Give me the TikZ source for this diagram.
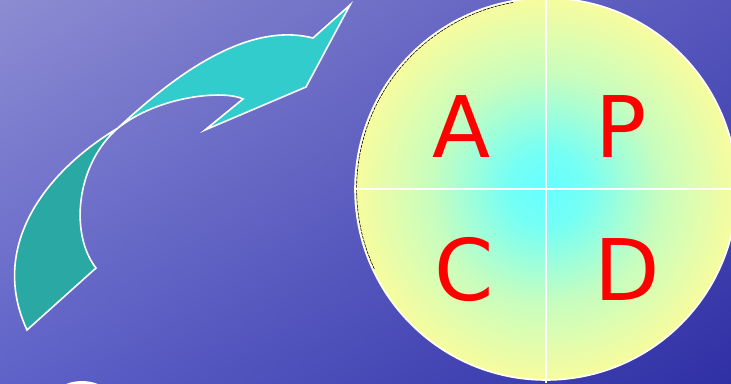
\documentclass[tikz,border=0pt]{standalone}
\usepackage{fontspec}
\usetikzlibrary{shadings}
\newfontfamily\lettfont{DejaVu Sans}
\definecolor{bgUL}{RGB}{140,140,210}
\definecolor{bgUR}{RGB}{85,85,188}
\definecolor{bgLL}{RGB}{95,98,200}
\definecolor{bgLR}{RGB}{48,48,165}
\definecolor{tealLight}{RGB}{51,204,204}
\definecolor{tealDark}{RGB}{42,168,164}
\definecolor{cyanC}{RGB}{102,255,255}
\definecolor{yellowC}{RGB}{252,252,155}
\definecolor{letterRed}{RGB}{255,0,0}
\pgfdeclareradialshading{pdcashade}{\pgfpoint{0bp}{0bp}}{color(0bp)=(cyanC); color(5bp)=(cyanC!90!yellowC); color(15bp)=(cyanC!35!yellowC); color(26bp)=(yellowC); color(50bp)=(yellowC)}
\tikzset{
  outline/.style={draw=white, line width=1.6pt, line join=miter},
  letter/.style={text=letterRed, font=\lettfont\fontsize{85}{85}\selectfont, inner sep=0pt, anchor=center},
}
\begin{document}
\begin{tikzpicture}[x=1pt, y=-1pt]
\useasboundingbox (0,0) rectangle (731,383);
% background
\shade[upper left=bgUL, upper right=bgUR, lower left=bgLL, lower right=bgLR] (0,0) rectangle (731,383);
% white partial shape bottom-left
\fill[white] (82,397) ellipse [x radius=27, y radius=16];
% arrow: dark lower part
\path[fill=tealDark, outline] (118,128) .. controls (40,175) and (-10,250) .. (27,330)
  -- (96,268) .. controls (70,235) and (75,165) .. (118,128) -- cycle;
% arrow: light upper part
\path[fill=tealLight, outline] (118,128) .. controls (180,70) and (250,22) .. (313,38)
  -- (350,5) -- (306,87) -- (205,130) -- (243,99)
  .. controls (225,90) and (160,95) .. (118,128) -- cycle;
% circle
\coordinate (cc) at (546,189);
\shade[shading=pdcashade] (cc) circle [radius=191];
\draw[black, line width=0.6pt, dash pattern=on 3pt off 1pt] (cc) ++(-100:189.4) arc[start angle=-100, end angle=-205, radius=189.4];
\draw[white, line width=1.6pt] (cc) circle [radius=191];
\draw[white, line width=1.8pt] (546,-2) -- (546,383);
\draw[white, line width=1.8pt] (355,189) -- (737,189);
% letters
\node[letter] (A) at (462,127) {A};
\node[letter] (P) at (621,127) {P};
\node[letter] (C) at (464,270) {C};
\node[letter] (D) at (627,270) {D};
\end{tikzpicture}
\end{document}
